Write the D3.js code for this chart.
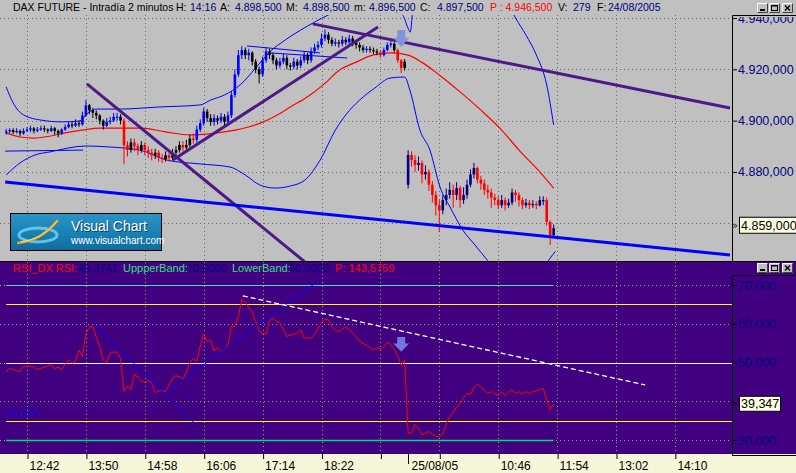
<!DOCTYPE html>
<html><head><meta charset="utf-8">
<script src="https://cdn.jsdelivr.net/npm/d3@7"></script>
<style>
html,body{margin:0;padding:0;background:#c0c0c0;}
svg{display:block;}
</style></head><body>
<svg id="c" width="796" height="473"></svg>
<script>
// ---------------- DATA ----------------
// 4-minute bars; index 0 = 12:42 of 24/08/05
const day1Start = -6, day2Start = 110;
const day1FirstOpen = 4895.5, day2FirstOpen = 4875;
const day1Close = [4895.8,4896.3,4895.5,4896,4895,4896,4896.5,4897,4896,4896.5,
 4897,4896.5,4896,4897,4896,4895,4896.5,4897.5,4898.5,4898,
 4899,4898.5,4902,4906,4904,4903,4902,4900,4898,4899.5,
 4900,4901.5,4901.5,4900,4890.5,4888.5,4891.5,4890,4888.5,4890.5,
 4888.5,4887.5,4886.5,4887.5,4885.5,4885,4886.5,4885.5,4887.5,4888.5,
 4890.5,4889.5,4890.5,4893,4892.5,4896.5,4899,4903.5,4901,4899.5,
 4901,4900,4901.5,4899.5,4902,4910,4918,4925.5,4927.5,4925.5,
 4926.5,4923,4920,4918,4923.5,4927,4925.5,4923.5,4921.5,4923,
 4924.5,4921.5,4921,4923,4921.5,4923.5,4925.5,4923.5,4927,4928.5,
 4929.5,4932,4933.5,4931.5,4930,4930.5,4930,4931.5,4930.5,4932,
 4930.5,4929.5,4928.5,4927.5,4928,4927.5,4927,4926.5,4925.5,4927.5,
 4929.5,4930,4927.5,4923.5,4920.5,4923];
const day1High = [4896.8,4897,4897,4897,4896.5,4897,4897.5,4898,4897.5,4897.5,
 4898,4898,4897,4898,4897.5,4896.5,4897,4898.5,4899.5,4899.5,
 4900.5,4900,4903.5,4908,4906.5,4905,4904,4902.5,4900.5,4901,
 4901.5,4903,4903,4902.5,4901,4892,4893,4893,4891,4892,
 4891.5,4890,4889,4889,4888.5,4887,4888,4887.5,4889,4890,
 4892,4892,4892.5,4894.5,4895,4898,4900.5,4905,4904.5,4902.5,
 4902.5,4902,4903,4902.5,4903.5,4911.5,4920,4927.5,4929,4928.5,
 4928,4927,4924,4921,4925,4928.5,4928,4926.5,4924.5,4924.5,
 4926,4925.5,4922.5,4924.5,4924,4925,4927,4926.5,4928.5,4930,
 4931,4934,4935.5,4934.5,4932.5,4932,4931.5,4933,4932.5,4933.5,
 4933,4931.5,4930.5,4929.5,4929,4929,4928.5,4928,4927.5,4928.5,
 4930.5,4931,4930.5,4928,4924,4924];
const day1Low = [4894.5,4895,4894.8,4895,4894,4894.5,4895.5,4895.5,4895,4895.5,
 4896,4895.5,4895,4895.5,4894.5,4893.5,4894.5,4896,4897,4897,
 4897.5,4897.5,4898,4901.5,4902.5,4901,4900.5,4898.5,4896.5,4897.5,
 4898.5,4899.5,4900,4898.5,4883,4886,4887.5,4888,4886.5,4887.5,
 4886.5,4885.5,4884.5,4885,4884,4883.5,4884,4884,4884.5,4886.5,
 4887.5,4888,4888.5,4889.5,4891,4891.5,4895.5,4898,4899.5,4898,
 4898,4898.5,4899,4898,4898.5,4901,4909,4917,4924,4924,
 4923.5,4921.5,4918.5,4914.5,4917,4922.5,4924,4922,4920,4920.5,
 4922,4920,4919.5,4920,4920,4920.5,4922.5,4922,4922.5,4926,
 4927.5,4928.5,4931,4930,4929,4929,4928.5,4929,4929.5,4929.5,
 4929,4928,4927,4926.5,4926.5,4926.5,4926,4925.5,4924.5,4925,
 4927,4928.5,4926.5,4922.5,4918.5,4919.5];
const day2Close = [4886.6,4884.6,4882.7,4883.5,4879,4880,4875,4871,4867,4865,
 4869,4871,4873,4871,4873.7,4869,4871,4875,4879,4881.5,
 4877,4875.5,4873,4872,4870,4869,4867,4869,4867,4868,
 4872,4871,4869,4867,4868,4867,4867.5,4867,4869,4869,
 4860.5,4855.4,4858.1];
const day2High = [4888.5,4888,4886.5,4886,4884.5,4882.5,4881,4876.5,4872.5,4869,
 4871,4873.5,4876,4875,4876,4874.5,4874,4877,4881,4883.5,
 4882,4878.5,4877,4875,4873.5,4871.5,4870.5,4871,4870,4869.5,
 4873.5,4873,4872,4870,4869.5,4869,4869,4868.5,4870.5,4870.5,
 4870,4861,4859.5];
const day2Low = [4873.5,4882,4880,4880.5,4875.5,4877,4872.5,4868,4863,4856.5,
 4863.5,4867,4869.5,4866,4869,4866,4867.5,4869.5,4874,4877.5,
 4875.5,4873,4871,4869.5,4866,4867,4865.5,4866,4865,4866,
 4867,4868.5,4866.5,4865.5,4866,4865.5,4866,4865.5,4866.5,4867,
 4859,4851.5,4854.5];

// moving average (red) and bands (blue)
const maIdx = [-6,-2,2,6,11,16,21,27,33,40,47,55,60,64,68,72,76,81,86,90,95,100,105,110,114,119,125,131,137,142,148,152];
const maVal = [4895.2,4893.6,4893.2,4893.8,4895.2,4896.3,4897.1,4897.1,4897.1,4895.6,4894.4,4895.2,4896.3,4897.5,4899.4,4902,4905.3,4909.3,4914.5,4919.5,4922.8,4925.6,4926.4,4925.5,4922.7,4917.8,4911.2,4904.1,4896.3,4888.5,4880,4873.7];
const upIdx = [-6,-4,-1,4,10,15,18,20,27,38,50,53,57,61.5,66,70,74.5,79,83,87,93,100,105,108.5,110,110.6,111.5,113,120,130,137,141,144,147,150,152];
const upVal = [4913.1,4906.9,4902.2,4900.2,4899.5,4899.8,4903.4,4904.5,4904.5,4905.3,4906.1,4908,4910,4913.9,4920.5,4926.7,4931.4,4935.3,4938.4,4941.2,4944,4945,4944,4941,4936,4934.5,4946,4960,4968,4962,4950,4940,4933.4,4925.6,4913.9,4898.3];
const loIdx = [-6,-2,2.3,6.6,17,24,32.6,40.4,50,58.6,63,67.2,71.6,76,80.2,84.6,89,92,96,100.4,104.8,109,110.5,113.4,116.3,119.2,122.1,125.8,129.3,132.8,138,144,148,151,152.5];
const loVal = [4878.8,4883.5,4886.6,4887.8,4890.1,4889.7,4888.5,4884.6,4883.1,4881.9,4878.8,4874.9,4873.7,4874.5,4876.8,4884.6,4896.3,4902.2,4908,4912.7,4916.6,4917,4911.9,4896.3,4888.5,4874.1,4866.3,4857.3,4851.5,4845.7,4838,4836,4840,4846.4,4849];
// extra thin channel segments [idxA, valA, idxB, valB]
const chanA = [-6.3, 4888.1, 16.2, 4888.5];
const chanB = [63.5, 4929.1, 84.6, 4926.4];
const chanC = [70.1, 4926.4, 92.4, 4924.4];

// drawn trendlines (price pane)
const tlFromIdx = [17.3, 42.1, 82.5, -6.3];
const tlFromVal = [4914.3, 4884.6, 4937.7, 4876.1];
const tlToIdx   = [80.2, 101.3, 202.9, 202.9];
const tlToVal   = [4844.9, 4936.5, 4904.9, 4847.6];

// RSI
const rsiDay1 = [47.6,48.5,48.2,47.9,47.6,49.1,49,49.1,48.9,48.1,
 48.5,48.8,49.1,49.5,48.4,48.8,48.3,49.4,50.7,49.8,
 50.3,53.2,51.5,57.5,59.2,59.4,56.5,54.2,50.6,49.9,
 52.4,52.7,52.7,51,42.5,44,43,46.8,46.3,45.2,
 45,45.3,44.8,42.2,42.7,42.8,42.5,44.2,46,46.6,
 46.3,45.7,47.5,50,51.1,50.2,54.2,57.4,55.3,55.8,
 53,53.8,52.8,53.4,54.5,59.4,59.3,62,66.3,65.5,
 64.2,63,60.6,58.2,57.5,57.3,60.8,61.4,60.6,60.3,
 58.5,56.7,57.1,57.3,57.5,58.5,56.3,56.3,56.3,57.3,
 58.8,60.3,61.2,61,59.3,58.3,58,58.7,59.1,58.5,
 57.7,56.6,55.4,54.9,54.5,53.8,53.2,53.8,53.5,54,
 55.3,54.6,53.4,51.7,49.3,50.6];
const rsiDay2 = [31.8,31.8,34,33,31.3,31.8,32.2,31.5,31,30.8,
 31.5,34,36,37,38.5,39.5,41,42,41.8,43.5,
 44.5,43.7,42.8,42,42.5,42,41.5,42.5,41.5,42.5,
 43,42,42.5,41.8,42.5,42,42.5,42.7,43,43.3,
 40.5,37.8,39.35];
const rsiLevels = [70, 65, 50, 35, 30];
const rsiTlFromIdx = [19, 39.8, 62.3];
const rsiTlFromVal = [60.2, 42.1, 67.2];
const rsiTlToIdx = [49.4, 84.8, 178.4];
const rsiTlToVal = [33.4, 71.5, 44.2];

// arrows [index, topValue, tipValue]
const priceArrow = [108, 4935.3, 4928.7];
const rsiArrow = [108, 56.6, 52.8];

// axes
const timeTickIdx = [0,17,34,51,68,85,102,119,136,153,170,187];
const timeTickLabels = ["12:42","13:50","14:58","16:06","17:14","18:22","","","10:46","11:54","13:02","14:10"];
const dayBreakIdx = 110.1, dayBreakLabel = "25/08/05";
const priceGrid = [4940,4920,4900,4880,4860];
const priceAxisTicks = [4940,4920,4900,4880];
const rsiGrid = [70,60,50,40,30];
const rsiAxisTicks = [70,60,50,30];
const lastPrice = 4859, lastRsi = 39.347;

const hdrText = ["DAX FUTURE - Intradía 2 minutos","H:","14:16","A:","4.898,500","M:","4.898,500","m:","4.896,500","C:","4.897,500","P : 4.946,500","V:","279","F:","24/08/2005"];
const hdrKind = ["k","k","v","k","v","k","v","k","v","k","v","r","k","v","k","v"];
const rsiHdrText = ["RSI_DX RSI:","49,3741","UppperBand:","70,0000","LowerBand:","30,0000","P: 143,5759"];
const rsiHdrKind = ["r","v","g","v","g","v","r"];

// ---------------- LAYOUT ----------------
const W=796, H=473, PR=732;
const P_TOP=15, P_BOT=261, R_TOP=262, R_BOT=454;
const FONT="'Liberation Sans', Arial, sans-serif";
const svg = d3.select("#c").attr("font-family", FONT);

const x = d3.scaleLinear().domain([0,17]).range([27,85.9]);
const yP = d3.scaleLinear().domain([4940,4860]).range([18,223.2]);
const yR = d3.scaleLinear().domain([70,30]).range([285,440]);
const maScale = d3.scaleLinear().domain(maIdx).range(maVal);
const loc = d3.formatLocale({decimal:",",thousands:".",grouping:[3],currency:["",""]});
const fmt3 = loc.format(",.3f");

const defs = svg.append("defs");
defs.append("clipPath").attr("id","cp").append("rect").attr("x",0).attr("y",P_TOP).attr("width",PR).attr("height",P_BOT-P_TOP);
defs.append("clipPath").attr("id","cr").append("rect").attr("x",0).attr("y",R_TOP).attr("width",PR).attr("height",R_BOT-R_TOP);
defs.append("clipPath").attr("id","cpa").append("rect").attr("x",PR).attr("y",P_TOP+2).attr("width",W-PR).attr("height",P_BOT-P_TOP-2);
const lg = defs.append("linearGradient").attr("id","lg").attr("x1",0).attr("y1",0).attr("x2",0).attr("y2",1);
lg.append("stop").attr("offset","0").attr("stop-color","#2b93c6");
lg.append("stop").attr("offset","0.5").attr("stop-color","#1b82b5");
lg.append("stop").attr("offset","1").attr("stop-color","#0e6c9c");

// backgrounds
svg.append("rect").attr("width",W).attr("height",H).attr("fill","#c0c0c0");
svg.append("rect").attr("x",0).attr("y",R_TOP).attr("width",W).attr("height",R_BOT-R_TOP).attr("fill","#400080");
svg.append("rect").attr("x",0).attr("y",R_BOT).attr("width",W).attr("height",H-R_BOT).attr("fill","#f5f5d7");
svg.append("line").attr("x1",0).attr("x2",W).attr("y1",P_BOT+0.5).attr("y2",P_BOT+0.5).attr("stroke","#000");

// ---------- header ----------
const hdrX = [13,176,190,220,235,286,303,354,369,420,437,490,558,573,597,608];
const kindCol = {k:"#000000", v:"#000080", r:"#ff0000", g:"#2fe07a"};
svg.append("g").selectAll("text").data(hdrText).join("text")
  .attr("x",(d,i)=>hdrX[i]).attr("y",11).attr("font-size",10.5)
  .attr("fill",(d,i)=>kindCol[hdrKind[i]]).text(d=>d);

function winButtons(x0,y0){
  const g = svg.append("g");
  [0,12,24].forEach((dx,i)=>{
    const bx=x0+dx+(i===2?1:0), by=y0;
    g.append("rect").attr("x",bx).attr("y",by).attr("width",11).attr("height",10).attr("fill","#c0c0c0");
    g.append("path").attr("d",`M${bx+0.5},${by+9.5}V${by+0.5}H${bx+10.5}`).attr("stroke","#fff").attr("fill","none");
    g.append("path").attr("d",`M${bx+0.5},${by+9.5}H${bx+10.5}V${by+0.5}`).attr("stroke","#404040").attr("fill","none");
    if(i===0) g.append("rect").attr("x",bx+3).attr("y",by+6).attr("width",5).attr("height",2).attr("fill","#000");
    if(i===1) g.append("rect").attr("x",bx+2.5).attr("y",by+2.5).attr("width",6).attr("height",5).attr("fill","none").attr("stroke","#000").attr("stroke-width",1);
    if(i===1) g.append("line").attr("x1",bx+2).attr("x2",bx+9).attr("y1",by+3).attr("y2",by+3).attr("stroke","#000");
    if(i===2) g.append("path").attr("d",`M${bx+3},${by+2.5}L${bx+8},${by+7.5}M${bx+8},${by+2.5}L${bx+3},${by+7.5}`).attr("stroke","#000").attr("stroke-width",1.4);
  });
}
winButtons(757,3);
winButtons(757,263);

// ---------- price pane ----------
const gp = svg.append("g").attr("clip-path","url(#cp)");
gp.append("g").selectAll("line").data(priceGrid).join("line")
  .attr("x1",0).attr("x2",PR).attr("y1",d=>Math.round(yP(d))+0.5).attr("y2",d=>Math.round(yP(d))+0.5)
  .attr("stroke","#6a6a6a").attr("stroke-dasharray","1,3");
gp.append("g").selectAll("line").data(timeTickIdx).join("line")
  .attr("x1",d=>Math.round(x(d))+0.5).attr("x2",d=>Math.round(x(d))+0.5).attr("y1",P_TOP).attr("y2",P_BOT)
  .attr("stroke","#6a6a6a").attr("stroke-dasharray","1,3");

const lineP = d3.line().x(d=>x(d[0])).y(d=>yP(d[1])).curve(d3.curveMonotoneX);
gp.append("path").attr("d",lineP(d3.zip(upIdx,upVal))).attr("fill","none").attr("stroke","#0000ff").attr("stroke-width",1);
gp.append("path").attr("d",lineP(d3.zip(loIdx,loVal))).attr("fill","none").attr("stroke","#0000ff").attr("stroke-width",1);
[chanA,chanB,chanC].forEach(s=>{
  gp.append("line").attr("x1",x(s[0])).attr("y1",yP(s[1])).attr("x2",x(s[2])).attr("y2",yP(s[3]))
    .attr("stroke","#0000ff").attr("stroke-width",1);
});
gp.append("path").attr("d",lineP(d3.zip(maIdx,maVal))).attr("fill","none").attr("stroke","#ff0000").attr("stroke-width",1.2);

function drawCandles(start, firstOpen, closes, highs, lows, darkCol){
  const g = gp.append("g");
  closes.forEach((c,i)=>{
    const idx = start+i;
    const o = i===0 ? firstOpen : closes[i-1];
    const above = c >= maScale(idx);
    const up = c >= o;
    const col = above ? (up ? "#0000ff" : "#000000") : (up ? darkCol : "#ff0000");
    const cx = x(idx);
    g.append("line").attr("x1",cx).attr("x2",cx).attr("y1",yP(highs[i])).attr("y2",yP(lows[i]))
      .attr("stroke",col).attr("stroke-width",1);
    const y1 = yP(Math.max(o,c)), y2 = yP(Math.min(o,c));
    g.append("rect").attr("x",cx-1.3).attr("y",y1).attr("width",2.6).attr("height",Math.max(1.2,y2-y1)).attr("fill",col);
  });
}
drawCandles(day1Start, day1FirstOpen, day1Close, day1High, day1Low, "#000000");
drawCandles(day2Start, day2FirstOpen, day2Close, day2High, day2Low, "#000080");

const tlCol = ["#4b1a88","#4b1a88","#4b1a88","#0000ff"];
tlFromIdx.forEach((d,i)=>{
  gp.append("line").attr("x1",x(d)).attr("y1",yP(tlFromVal[i])).attr("x2",x(tlToIdx[i])).attr("y2",yP(tlToVal[i]))
    .attr("stroke",tlCol[i]).attr("stroke-width",3);
});

function arrow(g, xc, yTop, yTip, col){
  const yMid = yTop + (yTip-yTop)*0.45;
  g.append("path").attr("d",`M${xc-4},${yTop}H${xc+4}V${yMid}H${xc+8}L${xc},${yTip}L${xc-8},${yMid}H${xc-4}Z`)
    .attr("fill",col);
}
arrow(gp, x(priceArrow[0]), yP(priceArrow[1]), yP(priceArrow[2]), "#8192de");

// logo
const lgG = svg.append("g");
lgG.append("rect").attr("x",10.5).attr("y",213.5).attr("width",151).attr("height",37).attr("fill","url(#lg)").attr("stroke","#000");
lgG.append("ellipse").attr("cx",38).attr("cy",235).attr("rx",19).attr("ry",7).attr("fill","none").attr("stroke","#6fd0f5").attr("stroke-width",3).attr("opacity",0.85);
lgG.append("path").attr("d","M17,243 Q40,242 58,220").attr("fill","none").attr("stroke","#f5a020").attr("stroke-width",2.5);
lgG.append("path").attr("d","M20,242 Q42,240 57,221").attr("fill","none").attr("stroke","#ffe070").attr("stroke-width",1);
lgG.append("text").attr("x",72).attr("y",232).attr("font-size",14).attr("fill","#0a4060").text("Visual Chart");
lgG.append("text").attr("x",71).attr("y",231).attr("font-size",14).attr("fill","#ffffff").text("Visual Chart");
lgG.append("text").attr("x",71).attr("y",244).attr("font-size",10).attr("fill","#ffffff").text("www.visualchart.com");

// price axis box
svg.append("path").attr("d",`M${PR+0.5},${P_BOT}V${P_TOP+0.5}H${W}`).attr("stroke","#000").attr("fill","none");
const pa = svg.append("g").attr("clip-path","url(#cpa)").append("g").attr("transform",`translate(${PR+1},0)`)
  .call(d3.axisRight(yP).tickValues(priceAxisTicks).tickSize(4).tickPadding(1).tickFormat(fmt3));
pa.select(".domain").remove();
pa.selectAll(".tick line").attr("stroke","#000");
pa.selectAll(".tick text").attr("fill","#000080").attr("font-size",12.5).attr("font-family",FONT);
const ly = yP(lastPrice);
svg.append("path").attr("d",`M${PR+1},${ly-2}l2,2l-2,2M${PR+3},${ly-2}l2,2l-2,2`).attr("stroke","#000").attr("fill","none").attr("stroke-width",0.8);
svg.append("rect").attr("x",739.5).attr("y",ly-8.5).attr("width",58).attr("height",16).attr("fill","#ffffe1").attr("stroke","#000");
svg.append("text").attr("x",741).attr("y",ly+4.5).attr("font-size",12.5).attr("fill","#000").text(fmt3(lastPrice));

// ---------- RSI pane ----------
const gr = svg.append("g").attr("clip-path","url(#cr)");
gr.append("g").selectAll("line").data(rsiGrid).join("line")
  .attr("x1",0).attr("x2",PR).attr("y1",d=>Math.round(yR(d))+0.5).attr("y2",d=>Math.round(yR(d))+0.5)
  .attr("stroke","#a0a070").attr("stroke-dasharray","1,3");
gr.append("g").selectAll("line").data(timeTickIdx).join("line")
  .attr("x1",d=>Math.round(x(d))+0.5).attr("x2",d=>Math.round(x(d))+0.5).attr("y1",R_TOP).attr("y2",R_BOT)
  .attr("stroke","#a0a070").attr("stroke-dasharray","1,3");
const lastIdx = day2Start + day2Close.length - 1;
const lvlCol = ["#40e0c0","#ffff00","#ffffff","#ffff00","#00e070"];
const lvlEnd = [x(lastIdx), PR, PR, PR, x(lastIdx)];
rsiLevels.forEach((v,i)=>{
  gr.append("line").attr("x1",x(day1Start)).attr("x2",lvlEnd[i]).attr("y1",Math.round(yR(v))+0.5).attr("y2",Math.round(yR(v))+0.5)
    .attr("stroke",lvlCol[i]).attr("stroke-width",i===4?1.6:1);
});
gr.append("text").attr("x",5).attr("y",yR(35)-4).attr("font-size",11.5).attr("fill","#1010d0").text(fmt3(35));

const rsiPts = rsiDay1.map((v,i)=>[day1Start+i,v]).concat(rsiDay2.map((v,i)=>[day2Start+i,v]));
gr.append("path").attr("d",d3.line().x(d=>x(d[0])).y(d=>yR(d[1]))(rsiPts))
  .attr("fill","none").attr("stroke","#ff0000").attr("stroke-width",1);
rsiTlFromIdx.forEach((d,i)=>{
  gr.append("line").attr("x1",x(d)).attr("y1",yR(rsiTlFromVal[i])).attr("x2",x(rsiTlToIdx[i])).attr("y2",yR(rsiTlToVal[i]))
    .attr("stroke", i<2 ? "#0000ff" : "#ffffff").attr("stroke-width", i<2 ? 1 : 1.3)
    .attr("stroke-dasharray", i<2 ? null : "5,3");
});
arrow(gr, x(rsiArrow[0]), yR(rsiArrow[1]), yR(rsiArrow[2]), "#7474e0");

const rsiHdrX = [13,78,123,187,232,289,335];
svg.append("g").selectAll("text").data(rsiHdrText).join("text")
  .attr("x",(d,i)=>rsiHdrX[i]).attr("y",272).attr("font-size",11)
  .attr("fill",(d,i)=>kindCol[rsiHdrKind[i]]).text(d=>d);

svg.append("path").attr("d",`M${PR+0.5},${R_BOT+1}V${275.5}H${W}M${PR},${R_BOT+1.5}H${W}`).attr("stroke","#000").attr("fill","none");
const ra = svg.append("g").attr("transform",`translate(${PR+1},0)`)
  .call(d3.axisRight(yR).tickValues(rsiAxisTicks).tickSize(4).tickPadding(1).tickFormat(fmt3));
ra.select(".domain").remove();
ra.selectAll(".tick line").attr("stroke","#000");
ra.selectAll(".tick text").attr("fill","#000080").attr("font-size",12.5).attr("font-family",FONT);
const lry = yR(lastRsi);
svg.append("path").attr("d",`M${PR+1},${lry-2}l2,2l-2,2M${PR+3},${lry-2}l2,2l-2,2`).attr("stroke","#000").attr("fill","none").attr("stroke-width",0.8);
svg.append("rect").attr("x",739.5).attr("y",lry-7.5).attr("width",41).attr("height",15).attr("fill","#ffffe1").attr("stroke","#000");
svg.append("text").attr("x",741).attr("y",lry+4.5).attr("font-size",12.5).attr("fill","#000").text(loc.format(",.3f")(lastRsi));

// ---------- time axis ----------
const ta = svg.append("g").attr("transform",`translate(0,${R_BOT})`)
  .call(d3.axisBottom(x).tickValues(timeTickIdx).tickSize(5).tickPadding(2).tickFormat((d,i)=>timeTickLabels[i]));
ta.select(".domain").remove();
ta.selectAll(".tick line").attr("stroke","#000").attr("transform","translate(0.5,0)");
ta.selectAll(".tick text").attr("text-anchor","start").attr("x",2).attr("fill","#000")
  .attr("font-size",12).attr("font-family",FONT);
svg.append("line").attr("x1",Math.round(x(dayBreakIdx))+0.5).attr("x2",Math.round(x(dayBreakIdx))+0.5)
  .attr("y1",R_BOT).attr("y2",R_BOT+10).attr("stroke","#000");
svg.append("text").attr("x",x(dayBreakIdx)+3).attr("y",469.5).attr("font-size",12).attr("fill","#000").text(dayBreakLabel);
</script></body></html>
